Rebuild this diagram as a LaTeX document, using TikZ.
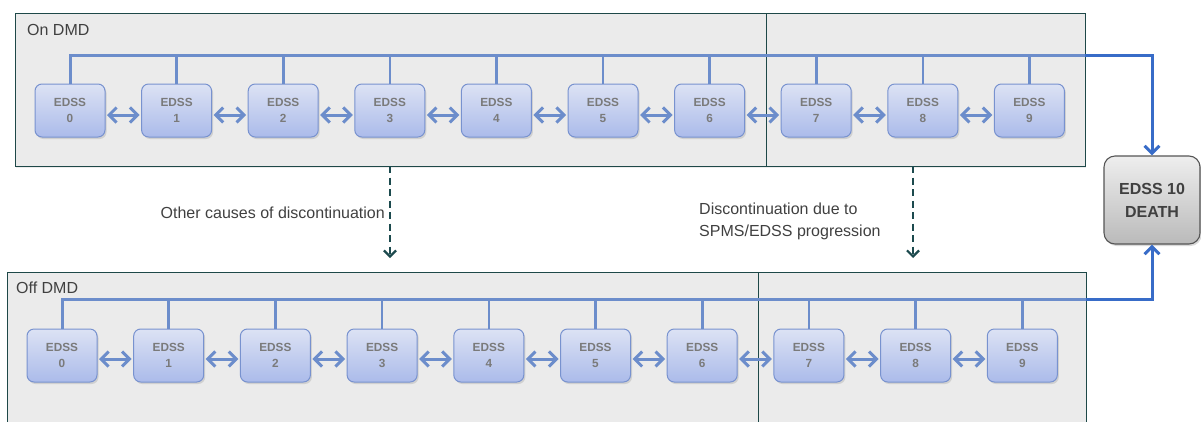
\documentclass[tikz,border=0pt]{standalone}
\usepackage{fontspec}
\setmainfont{Liberation Sans}
\usetikzlibrary{arrows.meta,shadows}
\definecolor{panelfill}{HTML}{EBEBEB}
\definecolor{paneldraw}{HTML}{1E4848}
\definecolor{boxtop}{HTML}{DCE2F4}
\definecolor{boxbot}{HTML}{ABBBEA}
\definecolor{boxdraw}{HTML}{7892CF}
\definecolor{edsstext}{HTML}{7A7A7A}
\definecolor{linkblue}{HTML}{6C8DCB}
\definecolor{deathblue}{HTML}{386CC8}
\definecolor{disccol}{HTML}{1C4A4E}
\definecolor{labeltext}{HTML}{404040}
\definecolor{deathtop}{HTML}{EEEEEE}
\definecolor{deathbot}{HTML}{BABABA}
\definecolor{deathdraw}{HTML}{555555}
\tikzset{
  panel/.style={draw=paneldraw, line width=1pt, fill=panelfill, inner sep=0pt,
    drop shadow={shadow xshift=1pt, shadow yshift=-1.5pt, opacity=0.15}},
  stagebox/.style={rounded corners=7pt, draw=boxdraw, line width=1pt,
    top color=boxtop, bottom color=boxbot, minimum width=70pt, minimum height=53pt,
    inner sep=0pt, align=center, text=edsstext,
    font=\bfseries\fontsize{11.8}{16}\selectfont,
    drop shadow={shadow xshift=1.5pt, shadow yshift=-2pt, opacity=0.25}},
  deathbox/.style={rounded corners=11pt, draw=deathdraw, line width=1.1pt,
    top color=deathtop, bottom color=deathbot, minimum width=96pt, minimum height=88pt,
    inner sep=0pt, align=center, text=labeltext,
    font=\bfseries\fontsize{16}{23}\selectfont,
    drop shadow={shadow xshift=1.5pt, shadow yshift=-2pt, opacity=0.3}},
  twoway/.style={draw=linkblue, line width=3pt, shorten <=1.5pt, shorten >=1.5pt,
    {Straight Barb[length=7.5pt,width=15pt]}-{Straight Barb[length=7.5pt,width=15pt]}},
  busline/.style={draw=linkblue, line width=3pt},
  stubline/.style={draw=linkblue, line width=2.6pt},
  deathline/.style={draw=deathblue, line width=3pt, -{Straight Barb[length=7.5pt,width=15pt]}},
  discarrow/.style={draw=disccol, line width=2.2pt, dash pattern=on 7pt off 4.5pt,
    -{Straight Barb[length=6pt,width=12pt]}},
  paneltitle/.style={anchor=west, inner sep=0pt, text=labeltext, font=\fontsize{16}{19}\selectfont},
  disclabel/.style={inner sep=0pt, text=labeltext, font=\fontsize{16}{22}\selectfont}
}
\begin{document}
\begin{tikzpicture}[x=1pt,y=-1pt]
\useasboundingbox (0,0) rectangle (1201,421);
% panels
\node[panel, minimum width=751pt, minimum height=153pt] (tl) at (390.5,89.5) {};
\node[panel, minimum width=319pt, minimum height=153pt] (tr) at (925.5,89.5) {};
\node[panel, minimum width=751pt, minimum height=168pt] (bl) at (382.5,356) {};
\node[panel, minimum width=328pt, minimum height=168pt] (br) at (922,356) {};
\node[paneltitle] (ton) at (27,30) {On DMD};
\node[paneltitle] (toff) at (16,288) {Off DMD};
% death node
\node[deathbox] (death) at (1152,200) {EDSS 10\\DEATH};
% stage boxes
\foreach \i in {0,...,9} {
  \node[stagebox] (t\i) at ({70+106.6*\i},110.5) {EDSS\\\i};
  \node[stagebox] (b\i) at ({62+106.7*\i},355.5) {EDSS\\\i};
}
% buses
\coordinate (tbus) at (70,55);
\coordinate (tedge) at (1085,55);
\coordinate (bbus) at (62,299);
\coordinate (bedge) at (1086,299);
\draw[busline] (t0.north) |- (tedge);
\draw[busline] (b0.north) |- (bedge);
\foreach \i in {1,...,9} {
  \draw[stubline] (t\i.north) -- (t\i.north |- tbus);
  \draw[stubline] (b\i.north) -- (b\i.north |- bbus);
}
\draw[deathline] (tedge) -| (death.north);
\draw[deathline] (bedge) -| (death.south);
% two-way arrows
\foreach \i/\j in {0/1,1/2,2/3,3/4,4/5,5/6,6/7,7/8,8/9} {
  \draw[twoway] ([yshift=-4.5pt]t\i.east) -- ([yshift=-4.5pt]t\j.west);
  \draw[twoway] ([yshift=-3.5pt]b\i.east) -- ([yshift=-3.5pt]b\j.west);
}
% discontinuation arrows
\coordinate (da1) at (390,166);
\coordinate (db1) at (390,258);
\coordinate (da2) at (913,166);
\coordinate (db2) at (913,258);
\draw[discarrow] (da1) -- (db1);
\draw[discarrow] (da2) -- (db2);
\node[disclabel, anchor=east] (l1) at (385,213) {Other causes of discontinuation};
\node[disclabel, anchor=west, align=left] (l2) at (699,221) {Discontinuation due to\\SPMS/EDSS progression};
\end{tikzpicture}
\end{document}
